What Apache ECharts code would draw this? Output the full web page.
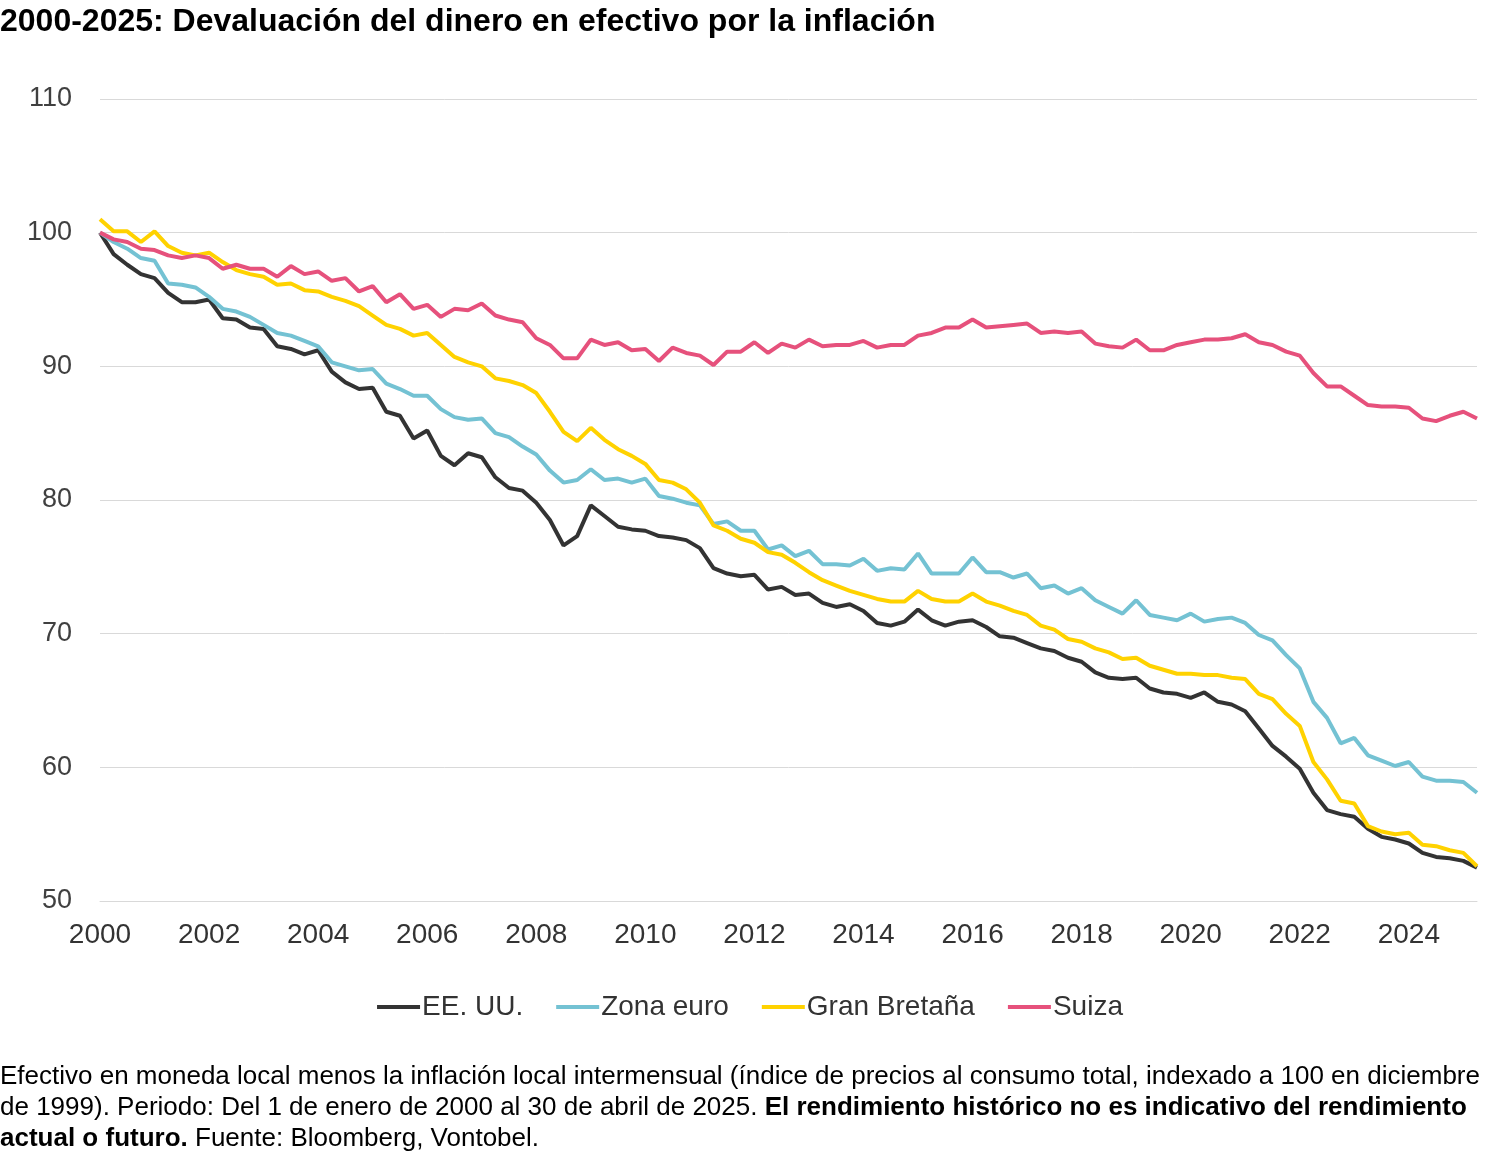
<!DOCTYPE html>
<html>
<head>
<meta charset="utf-8">
<script src="https://cdn.jsdelivr.net/npm/echarts@6/dist/echarts.min.js"></script>
<style>
html,body{margin:0;padding:0;background:#fff;}
#chart{width:1500px;height:1154px;}
</style>
</head>
<body>
<div id="chart"></div>
<script>
// Quarterly observation points (decimal years), Jan 2000 .. Apr 2025
const quarters = [];
for (let y = 2000; y <= 2025; y++) {
  for (let q = 0; q < 4; q++) {
    const t = y + q * 0.25;
    if (t <= 2025.25) quarters.push(t);
  }
}
const xTickYears = [2000, 2002, 2004, 2006, 2008, 2010, 2012, 2014, 2016, 2018, 2020, 2022, 2024];
const yTicks = [50, 60, 70, 80, 90, 100, 110];

const seriesNames = ['EE. UU.', 'Zona euro', 'Gran Bretaña', 'Suiza'];

const usa = [
  100.0, 98.4, 97.6, 96.9,
  96.6, 95.5, 94.8, 94.8,
  95.0, 93.6, 93.5, 92.9,
  92.8, 91.5, 91.3, 90.9,
  91.2, 89.6, 88.8, 88.3,
  88.4, 86.6, 86.3, 84.6,
  85.2, 83.3, 82.6, 83.5,
  83.2, 81.7, 80.9, 80.7,
  79.8, 78.5, 76.6, 77.3,
  79.6, 78.8, 78.0, 77.8,
  77.7, 77.3, 77.2, 77.0,
  76.4, 74.9, 74.5, 74.3,
  74.4, 73.3, 73.5, 72.9,
  73.0, 72.3, 72.0, 72.2,
  71.7, 70.8, 70.6, 70.9,
  71.8, 71.0, 70.6, 70.9,
  71.0, 70.5, 69.8, 69.7,
  69.3, 68.9, 68.7, 68.2,
  67.9, 67.1, 66.7, 66.6,
  66.7, 65.9, 65.6, 65.5,
  65.2, 65.6, 64.9, 64.7,
  64.2, 62.9, 61.6, 60.8,
  59.9, 58.1, 56.8, 56.5,
  56.3, 55.4, 54.8, 54.6,
  54.3, 53.6, 53.3, 53.2,
  53.0, 52.5
];
const euro = [
  100.0, 99.3, 98.8, 98.1,
  97.9, 96.2, 96.1, 95.9,
  95.2, 94.3, 94.1, 93.7,
  93.1, 92.5, 92.3, 91.9,
  91.5, 90.3, 90.0, 89.7,
  89.8, 88.7, 88.3, 87.8,
  87.8, 86.8, 86.2, 86.0,
  86.1, 85.0, 84.7, 84.0,
  83.4, 82.2, 81.3, 81.5,
  82.3, 81.5, 81.6, 81.3,
  81.6, 80.3, 80.1, 79.8,
  79.6, 78.2, 78.4, 77.7,
  77.7, 76.3, 76.6, 75.8,
  76.2, 75.2, 75.2, 75.1,
  75.6, 74.7, 74.9, 74.8,
  76.0, 74.5, 74.5, 74.5,
  75.7, 74.6, 74.6, 74.2,
  74.5, 73.4, 73.6, 73.0,
  73.4, 72.5, 72.0, 71.5,
  72.5, 71.4, 71.2, 71.0,
  71.5, 70.9, 71.1, 71.2,
  70.8, 69.9, 69.5, 68.4,
  67.4, 64.9, 63.7, 61.8,
  62.2, 60.9, 60.5, 60.1,
  60.4, 59.3, 59.0, 59.0,
  58.9, 58.1
];
const uk = [
  101.0, 100.1, 100.1, 99.3,
  100.1, 99.0, 98.5, 98.3,
  98.5, 97.8, 97.2, 96.9,
  96.7, 96.1, 96.2, 95.7,
  95.6, 95.2, 94.9, 94.5,
  93.8, 93.1, 92.8, 92.3,
  92.5, 91.6, 90.7, 90.3,
  90.0, 89.1, 88.9, 88.6,
  88.0, 86.6, 85.1, 84.4,
  85.4, 84.5, 83.8, 83.3,
  82.7, 81.5, 81.3, 80.8,
  79.8, 78.1, 77.7, 77.1,
  76.8, 76.1, 75.9, 75.3,
  74.6, 74.0, 73.6, 73.2,
  72.9, 72.6, 72.4, 72.4,
  73.2, 72.6, 72.4, 72.4,
  73.0, 72.4, 72.1, 71.7,
  71.4, 70.6, 70.3, 69.6,
  69.4, 68.9, 68.6, 68.1,
  68.2, 67.6, 67.3, 67.0,
  67.0, 66.9, 66.9, 66.7,
  66.6, 65.5, 65.1, 64.0,
  63.1, 60.4, 59.1, 57.5,
  57.3, 55.6, 55.2, 55.0,
  55.1, 54.2, 54.1, 53.8,
  53.6, 52.6
];
const swiss = [
  100.0, 99.5, 99.3, 98.8,
  98.7, 98.3, 98.1, 98.3,
  98.1, 97.3, 97.6, 97.3,
  97.3, 96.7, 97.5, 96.9,
  97.1, 96.4, 96.6, 95.6,
  96.0, 94.8, 95.4, 94.3,
  94.6, 93.7, 94.3, 94.2,
  94.7, 93.8, 93.5, 93.3,
  92.1, 91.6, 90.6, 90.6,
  92.0, 91.6, 91.8, 91.2,
  91.3, 90.4, 91.4, 91.0,
  90.8, 90.1, 91.1, 91.1,
  91.8, 91.0, 91.7, 91.4,
  92.0, 91.5, 91.6, 91.6,
  91.9, 91.4, 91.6, 91.6,
  92.3, 92.5, 92.9, 92.9,
  93.5, 92.9, 93.0, 93.1,
  93.2, 92.5, 92.6, 92.5,
  92.6, 91.7, 91.5, 91.4,
  92.0, 91.2, 91.2, 91.6,
  91.8, 92.0, 92.0, 92.1,
  92.4, 91.8, 91.6, 91.1,
  90.8, 89.5, 88.5, 88.5,
  87.8, 87.1, 87.0, 87.0,
  86.9, 86.1, 85.9, 86.3,
  86.6, 86.1
];

const titleText = '2000-2025: Devaluación del dinero en efectivo por la inflación';
const note1 = 'Efectivo en moneda local menos la inflación local intermensual (índice de precios al consumo total, indexado a 100 en diciembre';
const note2a = 'de 1999). Periodo: Del 1 de enero de 2000 al 30 de abril de 2025. ';
const note2b = 'El rendimiento histórico no es indicativo del rendimiento';
const note3a = 'actual o futuro.';
const note3b = ' Fuente: Bloomberg, Vontobel.';

const colors = ['#333333', '#74C2D3', '#FFD200', '#E6517C'];
const FONT = '"Liberation Sans", Arial, sans-serif';

const chart = echarts.init(document.getElementById('chart'), null, {renderer: 'canvas'});
const allSeries = [usa, euro, uk, swiss];

chart.setOption({
  backgroundColor: '#ffffff',
  animation: false,
  color: colors,
  textStyle: {fontFamily: FONT},
  title: {
    text: titleText,
    left: 0,
    top: 6,
    padding: 0,
    textStyle: {fontFamily: FONT, fontSize: 32, fontWeight: 'bold', color: '#000000'}
  },
  legend: {
    data: seriesNames,
    left: 'center',
    top: 988,
    icon: 'rect',
    itemWidth: 43,
    itemHeight: 4,
    itemGap: 33,
    textStyle: {fontFamily: FONT, fontSize: 28, color: '#333333', padding: [0, 0, 0, -3]}
  },
  grid: {left: 100, right: 23, top: 99, bottom: 253, containLabel: false},
  xAxis: {
    type: 'value',
    min: 2000,
    max: 2025.25,
    interval: 2,
    axisLine: {show: true, lineStyle: {color: '#d9d9d9', width: 1}},
    axisTick: {show: false},
    splitLine: {show: false},
    axisLabel: {
      fontFamily: FONT, fontSize: 28, color: '#333333', margin: 20,
      showMaxLabel: false,
      formatter: function (v) { return xTickYears.indexOf(v) >= 0 ? String(v) : ''; }
    }
  },
  yAxis: {
    type: 'value',
    min: yTicks[0],
    max: yTicks[yTicks.length - 1],
    interval: 10,
    axisLine: {show: false},
    axisTick: {show: false},
    splitLine: {show: true, lineStyle: {color: '#d9d9d9', width: 1}},
    axisLabel: {fontFamily: FONT, fontSize: 27, color: '#404040', margin: 28}
  },
  series: seriesNames.map(function (name, k) {
    return {
      name: name,
      type: 'line',
      showSymbol: false,
      symbol: 'none',
      smooth: false,
      lineStyle: {width: 4, color: colors[k]},
      itemStyle: {color: colors[k]},
      data: quarters.map(function (t, i) { return [t, allSeries[k][i]]; })
    };
  }),
  graphic: [{
    type: 'text',
    left: 0,
    top: 1064,
    style: {
      text: '{n|' + note1 + '}\n{n|' + note2a + '}{b|' + note2b + '}\n{b|' + note3a + '}{n|' + note3b + '}',
      rich: {
        n: {fontFamily: FONT, fontSize: 26, color: '#7f7f7f', lineHeight: 31},
        b: {fontFamily: FONT, fontSize: 26, color: '#7f7f7f', fontWeight: 'bold', lineHeight: 31}
      }
    }
  }]
});
</script>
</body>
</html>
